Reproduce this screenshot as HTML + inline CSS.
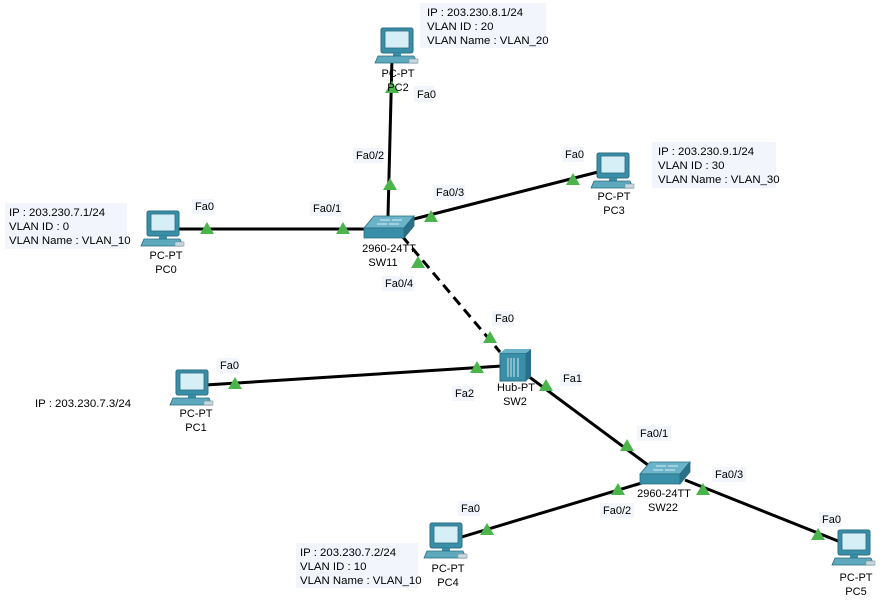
<!DOCTYPE html>
<html><head><meta charset="utf-8"><style>
body{margin:0;background:#fff}
svg{display:block}
text{font-family:"Liberation Sans",Arial,sans-serif;font-size:11px;fill:#000}
.i{font-size:11.4px}
.c{text-anchor:middle}
</style></head><body>
<svg width="885" height="615" viewBox="0 0 885 615">
<defs>
<g id="pc">
<rect x="0" y="0" width="32" height="25" rx="2" fill="#3a8fa8" stroke="#2a6c80"/>
<rect x="4" y="3" width="24" height="17" fill="#d6eef5" stroke="#2a6c80" stroke-width="0.8"/>
<rect x="12" y="25" width="8" height="3" fill="#3a8fa8"/>
<polygon points="-3,28 33,28 36,35 -6,35" fill="#5fa9bf" stroke="#2a6c80" stroke-width="0.8"/>
<rect x="28" y="31" width="9" height="4" fill="#c8d8e0" stroke="#7a8a90" stroke-width="0.5"/>
</g>
<g id="sw">
<polygon points="10,0 50,0 40,12 0,12" fill="#6ab3c8" stroke="#2a6c80" stroke-width="0.8"/>
<polygon points="0,12 40,12 40,22 0,22" fill="#3a8fa8" stroke="#2a6c80" stroke-width="0.8"/>
<polygon points="40,12 50,0 50,10 40,22" fill="#2a7088" stroke="#2a6c80" stroke-width="0.8"/>
<path d="M16,4h10M28,4h10M13,8h10M25,8h10" stroke="#d8eef4" stroke-width="1"/>
</g>
<polygon id="t" points="0,-7 7,5 -7,5" fill="#4bb44b"/>
</defs>

<g stroke="#000" stroke-width="3" fill="none">
<line x1="392" y1="58" x2="388" y2="216"/>
<line x1="163" y1="229" x2="366" y2="229"/>
<line x1="410" y1="220" x2="598" y2="172"/>
<line x1="402" y1="236" x2="500" y2="352" stroke-dasharray="10,6"/>
<line x1="190" y1="386" x2="502" y2="366"/>
<line x1="528" y1="376" x2="652" y2="468"/>
<line x1="645" y1="482" x2="445" y2="542"/>
<line x1="685" y1="480" x2="848" y2="545"/>
</g>

<use href="#pc" x="381" y="28"/>
<use href="#pc" x="597" y="153"/>
<use href="#pc" x="147" y="211"/>
<use href="#pc" x="176" y="370"/>
<use href="#pc" x="430" y="523"/>
<use href="#pc" x="838" y="530"/>
<use href="#sw" x="364" y="216"/>
<use href="#sw" x="640" y="462"/>
<g>
<rect x="500" y="353" width="26" height="28" fill="#3a8fa8" stroke="#2a6c80"/>
<polygon points="526,353 531,349 531,377 526,381" fill="#2a7088"/>
<polygon points="500,353 505,349 531,349 526,353" fill="#6ab3c8"/>
<path d="M508,358v19M511,358v19M514,358v19M518,358v19" stroke="#cfe6ee" stroke-width="1"/>
</g>

<g>
<use href="#t" x="392" y="88"/>
<use href="#t" x="390" y="185"/>
<use href="#t" x="207" y="229"/>
<use href="#t" x="343" y="229"/>
<use href="#t" x="431" y="217"/>
<use href="#t" x="573" y="180"/>
<use href="#t" x="418" y="263"/>
<use href="#t" x="490" y="338"/>
<use href="#t" x="235" y="384"/>
<use href="#t" x="477" y="368"/>
<use href="#t" x="546" y="386"/>
<use href="#t" x="627" y="446"/>
<use href="#t" x="487" y="530"/>
<use href="#t" x="618" y="490"/>
<use href="#t" x="703" y="490"/>
<use href="#t" x="818" y="535"/>
</g>

<g fill="#f2f5fb">
<rect x="420" y="3" width="126" height="45"/>
<rect x="652" y="142" width="124" height="46"/>
<rect x="5" y="203" width="122" height="46"/>
<rect x="296" y="543" width="122" height="45"/>
<rect x="414" y="86" width="20" height="16"/>
<rect x="353" y="148" width="30" height="15"/>
<rect x="433" y="185" width="32" height="15"/>
<rect x="562" y="147" width="22" height="15"/>
<rect x="192" y="199" width="22" height="15"/>
<rect x="310" y="201" width="32" height="15"/>
<rect x="382" y="276" width="32" height="15"/>
<rect x="492" y="311" width="22" height="15"/>
<rect x="217" y="358" width="22" height="15"/>
<rect x="452" y="386" width="22" height="15"/>
<rect x="560" y="371" width="22" height="15"/>
<rect x="637" y="426" width="34" height="15"/>
<rect x="712" y="467" width="34" height="15"/>
<rect x="600" y="503" width="34" height="15"/>
<rect x="458" y="501" width="22" height="15"/>
<rect x="819" y="512" width="22" height="15"/>
</g>

<text class="i" x="427" y="16">IP : 203.230.8.1/24</text>
<text class="i" x="427" y="30">VLAN ID : 20</text>
<text class="i" x="427" y="44">VLAN Name : VLAN_20</text>
<text class="i" x="658" y="155">IP : 203.230.9.1/24</text>
<text class="i" x="658" y="169">VLAN ID : 30</text>
<text class="i" x="658" y="183">VLAN Name : VLAN_30</text>
<text class="i" x="9" y="216">IP : 203.230.7.1/24</text>
<text class="i" x="9" y="230">VLAN ID : 0</text>
<text class="i" x="9" y="244">VLAN Name : VLAN_10</text>
<text class="i" x="35" y="407">IP : 203.230.7.3/24</text>
<text class="i" x="300" y="556">IP : 203.230.7.2/24</text>
<text class="i" x="300" y="570">VLAN ID : 10</text>
<text class="i" x="300" y="584">VLAN Name : VLAN_10</text>

<text x="417" y="98">Fa0</text>
<text x="356" y="159">Fa0/2</text>
<text x="436" y="196">Fa0/3</text>
<text x="565" y="158">Fa0</text>
<text x="195" y="210">Fa0</text>
<text x="313" y="212">Fa0/1</text>
<text x="385" y="287">Fa0/4</text>
<text x="495" y="322">Fa0</text>
<text x="220" y="369">Fa0</text>
<text x="455" y="397">Fa2</text>
<text x="563" y="382">Fa1</text>
<text x="640" y="437">Fa0/1</text>
<text x="715" y="478">Fa0/3</text>
<text x="603" y="514">Fa0/2</text>
<text x="461" y="512">Fa0</text>
<text x="822" y="523">Fa0</text>

<text class="c" x="398" y="77">PC-PT</text>
<text class="c" x="398" y="91">PC2</text>
<text class="c" x="614" y="200">PC-PT</text>
<text class="c" x="614" y="214">PC3</text>
<text class="c" x="166" y="259">PC-PT</text>
<text class="c" x="166" y="273">PC0</text>
<text class="c" x="196" y="417">PC-PT</text>
<text class="c" x="196" y="431">PC1</text>
<text class="c" x="448" y="572">PC-PT</text>
<text class="c" x="448" y="586">PC4</text>
<text class="c" x="856" y="581">PC-PT</text>
<text class="c" x="856" y="595">PC5</text>
<text class="c" x="389" y="252">2960-24TT</text>
<text class="c" x="383" y="266">SW11</text>
<text class="c" x="516" y="391">Hub-PT</text>
<text class="c" x="515" y="405">SW2</text>
<text class="c" x="664" y="497">2960-24TT</text>
<text class="c" x="663" y="511">SW22</text>
</svg>
</body></html>
